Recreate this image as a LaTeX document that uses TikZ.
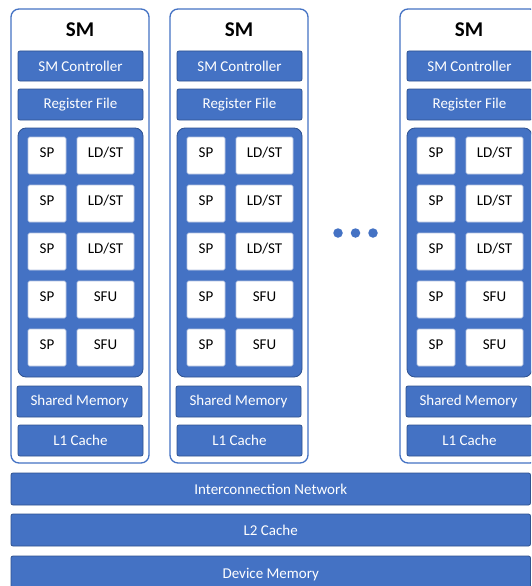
\documentclass[tikz,border=0pt]{standalone}
\usepackage{fontspec}
\setmainfont{Carlito}
\definecolor{smblue}{HTML}{4472C4}
\definecolor{smedge}{HTML}{2F528F}
\definecolor{celledge}{HTML}{B4C3E0}
\tikzset{
  txt/.style={font=\fontsize{15}{18}\selectfont},
  bluebox/.style={txt, draw=smedge, fill=smblue, text=white, line width=0.8pt,
    rounded corners=2pt, inner sep=0pt},
  panel/.style={draw=smedge, fill=smblue, line width=0.8pt, rounded corners=8pt, inner sep=0pt},
  cell/.style={txt, draw=celledge, fill=white, line width=0.6pt, rounded corners=1.5pt, inner sep=0pt},
  smframe/.style={draw=smblue, fill=white, line width=1.3pt, rounded corners=8pt, inner sep=0pt},
  smtitle/.style={font=\fontsize{21}{24}\selectfont\bfseries},
  dotmark/.style={circle, fill=smblue, inner sep=0pt, minimum size=9.5pt},
}
% One streaming multiprocessor; #1 = name prefix, #2 = horizontal offset
\newcommand{\smunit}[2]{%
  \begin{scope}[xshift=#2pt]
    \node[smframe, minimum width=138pt, minimum height=454pt] (#1) at (80,236) {};
    \node[smtitle] (#1title) at (80,30) {SM};
    \node[bluebox, minimum width=125pt, minimum height=30pt] (#1ctrl) at (80.5,66) {SM Controller};
    \node[bluebox, minimum width=125pt, minimum height=31pt] (#1reg) at (80.5,104.5) {Register File};
    \node[panel, minimum width=125pt, minimum height=249pt] (#1core) at (80.5,252.5) {};
    \foreach \k/\unit in {0/LD\slash ST,1/LD\slash ST,2/LD\slash ST,3/SFU,4/SFU}{
      \node[cell, minimum width=38pt, minimum height=37pt, text depth=6pt] (#1sp\k) at (47,155.5+48*\k) {SP};
      \node[cell, minimum width=57pt, minimum height=37pt, text depth=6pt] (#1fu\k) at (105.5,155.5+48*\k) {\unit};
    }
    \node[bluebox, minimum width=125pt, minimum height=31pt] (#1shm) at (79.5,401.5) {Shared Memory};
    \node[bluebox, minimum width=125pt, minimum height=31pt] (#1lone) at (80.5,440.5) {L1 Cache};
  \end{scope}}
\begin{document}
\begin{tikzpicture}[x=1pt,y=-1pt]
  \clip (0,0) rectangle (531,586);
  \fill[white] (0,0) rectangle (531,586);

  \smunit{smA}{0}
  \smunit{smB}{159}
  \smunit{smC}{389}

  \node[dotmark] (dot1) at (338,233) {};
  \node[dotmark] (dot2) at (355.5,233) {};
  \node[dotmark] (dot3) at (373,233) {};

  \node[bluebox, minimum width=519.5pt, minimum height=32pt] (icn) at (270.75,489) {Interconnection Network};
  \node[bluebox, minimum width=519.5pt, minimum height=32pt] (ltwo) at (270.75,530) {L2 Cache};
  \node[bluebox, minimum width=519.5pt, minimum height=44pt, text depth=10pt] (devmem) at (270.75,578) {Device Memory};
\end{tikzpicture}
\end{document}
